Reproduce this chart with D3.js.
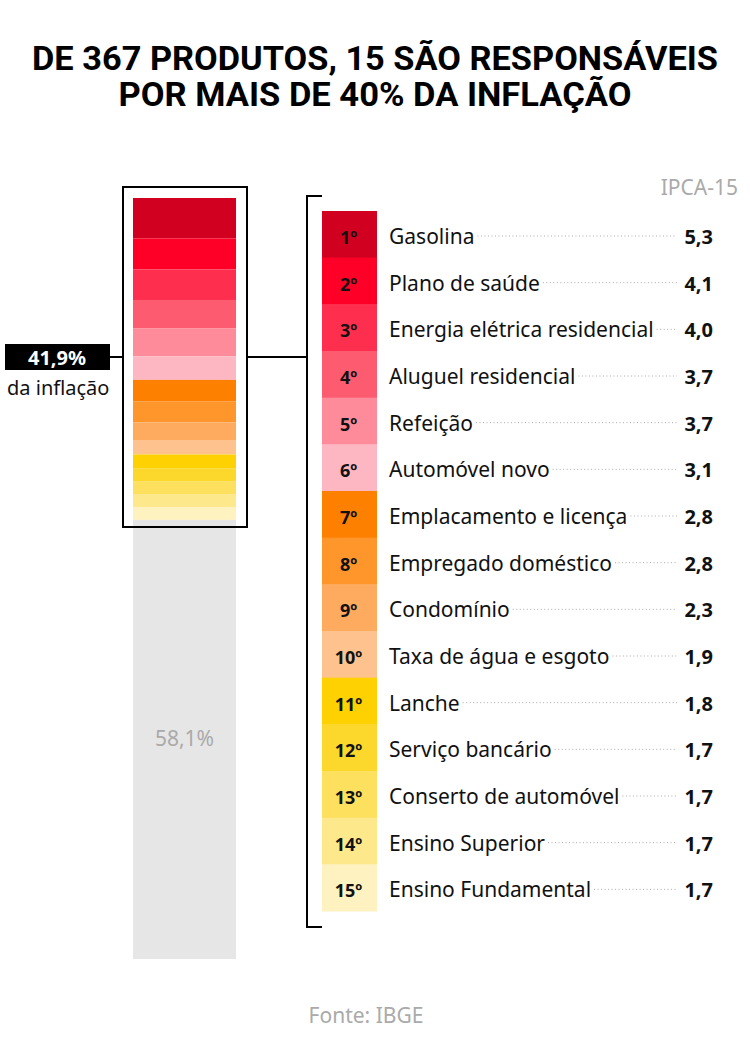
<!DOCTYPE html>
<html>
<head>
<meta charset="utf-8">
<script src="https://cdn.jsdelivr.net/npm/d3@7"></script>
<style>
  body { margin: 0; padding: 0; background: #fff; }
  text { font-family: "Noto Sans", "Open Sans", sans-serif; }
</style>
</head>
<body>
<script>
// dados: 15 itens que mais pesam no IPCA-15
const ranks = ["1", "2", "3", "4", "5", "6", "7", "8", "9", "10", "11", "12", "13", "14", "15"]
const items = ["Gasolina", "Plano de saúde", "Energia elétrica residencial", "Aluguel residencial",
  "Refeição", "Automóvel novo", "Emplacamento e licença", "Empregado doméstico", "Condomínio",
  "Taxa de água e esgoto", "Lanche", "Serviço bancário", "Conserto de automóvel",
  "Ensino Superior", "Ensino Fundamental"]
const values = [5.3, 4.1, 4.0, 3.7, 3.7, 3.1, 2.8, 2.8, 2.3, 1.9, 1.8, 1.7, 1.7, 1.7, 1.7]
const colors = ["#d20020", "#fe0027", "#fd2e4e", "#fd5b70", "#fe8b99", "#fdb7c2", "#fe8000",
  "#fe962c", "#feab60", "#fec28e", "#fed103", "#fdd82c", "#fde05d", "#fde88b", "#fef2c1"]
const top15Share = 41.9
const restShare = 58.1

const width = 750
const height = 1050

const svg = d3.select("body").append("svg")
  .attr("width", width)
  .attr("height", height)

svg.append("rect").attr("width", width).attr("height", height).attr("fill", "#fff")

// titulo
const title = svg.append("g")
  .attr("font-weight", "bold")
  .attr("text-anchor", "middle")
  .attr("fill", "#000")
title.append("text")
  .attr("x", width / 2).attr("y", 70)
  .style("font-family", "Roboto, sans-serif")
  .attr("font-size", 33)
  .attr("textLength", 686)
  .attr("lengthAdjust", "spacingAndGlyphs")
  .text("DE 367 PRODUTOS, 15 SÃO RESPONSÁVEIS")
title.append("text")
  .attr("x", width / 2).attr("y", 106)
  .style("font-family", "Roboto, sans-serif")
  .attr("font-size", 33)
  .attr("textLength", 513)
  .attr("lengthAdjust", "spacingAndGlyphs")
  .text("POR MAIS DE 40% DA INFLAÇÃO")

// barra empilhada (100%)
const y = d3.scaleLinear().domain([0, 100]).range([198, 959])
const barX = 133, barW = 103

svg.append("rect")
  .attr("x", barX)
  .attr("y", y(top15Share))
  .attr("width", barW)
  .attr("height", y(100) - y(top15Share))
  .attr("fill", "#e6e6e6")

const stacked = d3.cumsum(values)
svg.append("g")
  .selectAll("rect")
  .data(values)
  .join("rect")
  .attr("x", barX)
  .attr("y", (d, i) => y(stacked[i] - d))
  .attr("width", barW)
  .attr("height", d => y(d) - y(0))
  .attr("fill", (d, i) => colors[i])

svg.append("text")
  .attr("x", barX + barW / 2)
  .attr("y", 746)
  .attr("text-anchor", "middle")
  .attr("font-size", 21)
  .attr("fill", "#aaa")
  .text(String(restShare).replace(".", ",") + "%")

// moldura em volta dos 15
svg.append("rect")
  .attr("x", 123).attr("y", 187)
  .attr("width", 124).attr("height", 340)
  .attr("fill", "none")
  .attr("stroke", "#000")
  .attr("stroke-width", 2)

// rotulo 41,9%
const midY = 357
svg.append("rect")
  .attr("x", 5).attr("y", 344)
  .attr("width", 105).attr("height", 26)
  .attr("fill", "#000")
svg.append("text")
  .attr("x", 57).attr("y", 365)
  .attr("text-anchor", "middle")
  .attr("font-size", 20)
  .attr("font-weight", "bold")
  .attr("fill", "#fff")
  .text(String(top15Share).replace(".", ",") + "%")
svg.append("text")
  .attr("x", 7).attr("y", 395)
  .attr("font-size", 20)
  .attr("fill", "#111")
  .text("da inflação")

svg.append("line")
  .attr("x1", 110).attr("x2", 123)
  .attr("y1", midY).attr("y2", midY)
  .attr("stroke", "#000").attr("stroke-width", 2)
svg.append("line")
  .attr("x1", 247).attr("x2", 307)
  .attr("y1", midY).attr("y2", midY)
  .attr("stroke", "#000").attr("stroke-width", 2)

// colchete
svg.append("path")
  .attr("d", "M322,196 H307 V927 H322")
  .attr("fill", "none")
  .attr("stroke", "#000")
  .attr("stroke-width", 2)

// lista
const row = d3.scaleBand().domain(ranks).range([211, 911])
const colX = 322, colW = 55
const labelX = 389, valueX = 713

svg.append("text")
  .attr("x", 738).attr("y", 195)
  .attr("text-anchor", "end")
  .attr("font-size", 21)
  .attr("fill", "#aaa")
  .text("IPCA-15")

const rows = svg.append("g")
  .selectAll("g")
  .data(ranks)
  .join("g")
  .attr("transform", d => `translate(0,${row(d)})`)

rows.append("rect")
  .attr("x", colX)
  .attr("width", colW)
  .attr("height", row.bandwidth() + 0.5)
  .attr("fill", (d, i) => colors[i])

rows.append("text")
  .attr("x", colX + colW / 2 - 1)
  .attr("y", 33)
  .attr("text-anchor", "middle")
  .attr("font-size", 18)
  .attr("font-weight", "bold")
  .attr("fill", "#111")
  .text(d => d + "º")

const labels = rows.append("text")
  .attr("x", labelX)
  .attr("y", 33)
  .attr("font-size", 21)
  .attr("fill", "#111")
  .text((d, i) => items[i])

rows.append("text")
  .attr("x", valueX)
  .attr("y", 33)
  .attr("text-anchor", "end")
  .attr("font-size", 20)
  .attr("font-weight", "bold")
  .attr("fill", "#111")
  .text((d, i) => d3.format(".1f")(values[i]).replace(".", ","))

// pontilhado entre nome e valor
labels.each(function () {
  const w = this.getComputedTextLength()
  d3.select(this.parentNode).insert("line", "text")
    .attr("x1", labelX + w + 3)
    .attr("x2", 677)
    .attr("y1", 25).attr("y2", 25)
    .attr("stroke", "#aaa")
    .attr("stroke-width", 1)
    .attr("stroke-dasharray", "1,2.5")
})

svg.append("text")
  .attr("x", 366).attr("y", 1023)
  .attr("text-anchor", "middle")
  .attr("font-size", 21)
  .attr("fill", "#aaa")
  .text("Fonte: IBGE")
</script>
</body>
</html>
